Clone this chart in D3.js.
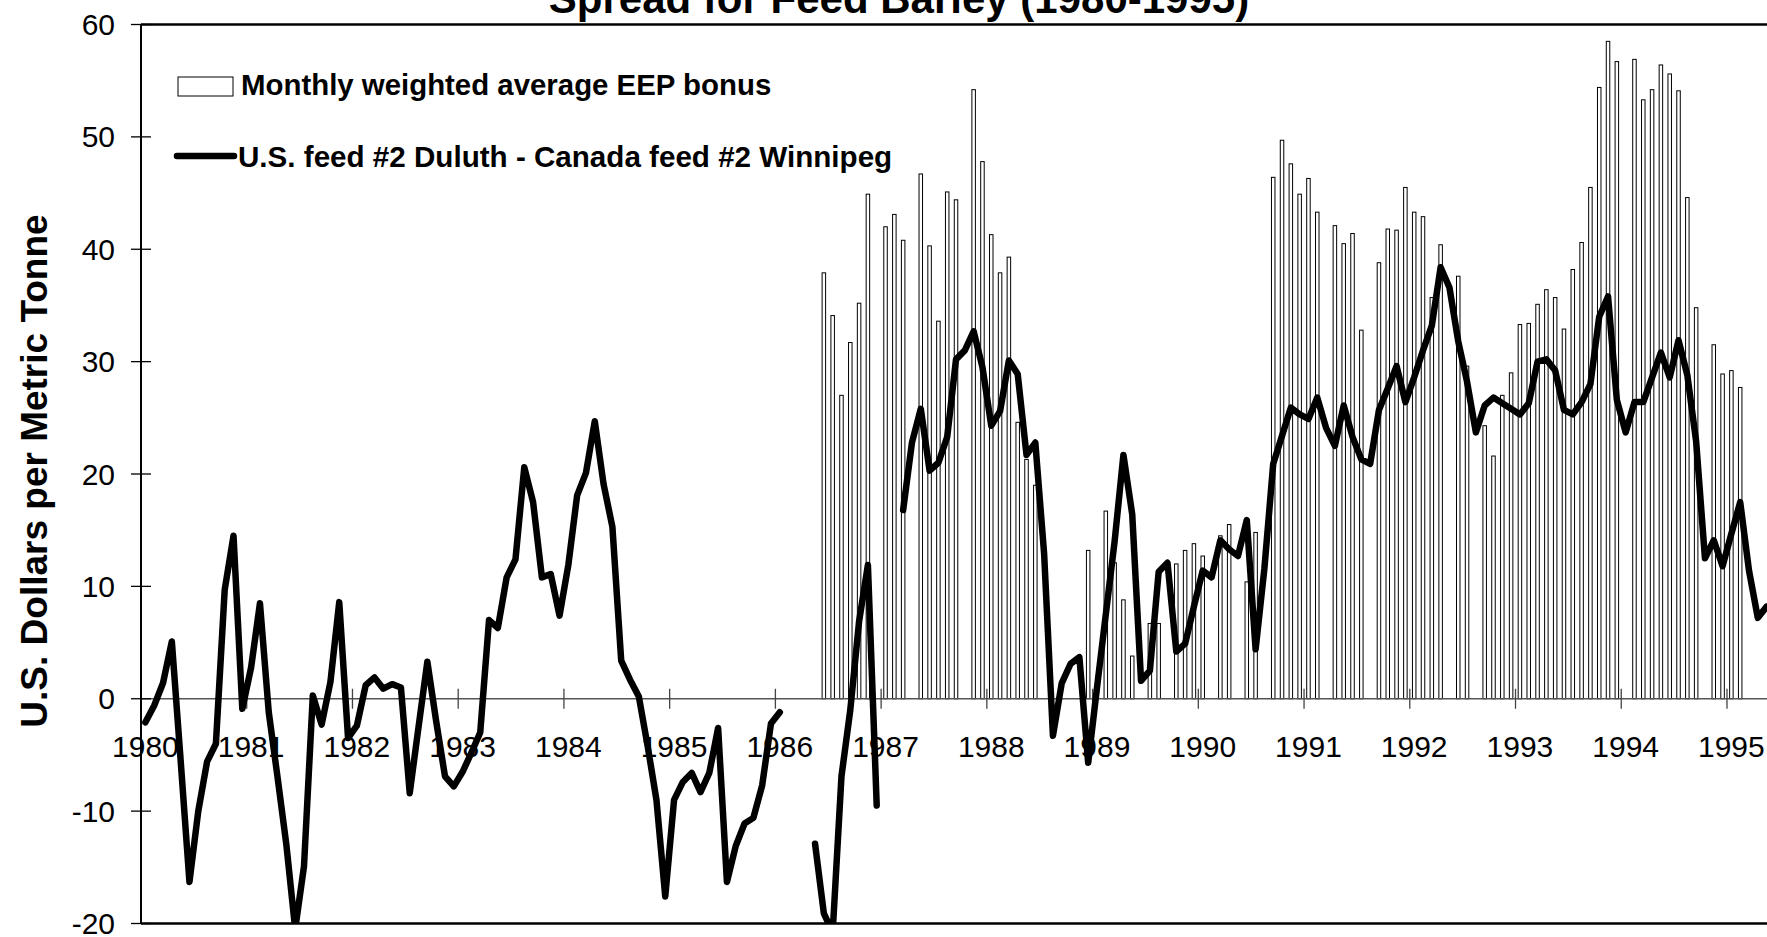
<!DOCTYPE html>
<html>
<head>
<meta charset="utf-8">
<script src="https://cdn.jsdelivr.net/npm/d3@7"></script>
<style>
  body { margin: 0; background: #fff; }
  svg { display: block; font-family: "Liberation Sans", Arial, sans-serif; }
</style>
</head>
<body>
<div id="chart"></div>
<script>
// Year labels on the category axis (one every 12 months, Jan 1980 onward)
const years = [1980, 1981, 1982, 1983, 1984, 1985, 1986, 1987, 1988, 1989, 1990, 1991, 1992, 1993, 1994, 1995];

// U.S. feed #2 Duluth - Canada feed #2 Winnipeg spread, monthly (null = no quote)
const spread = [
  -2.1, -0.6, 1.4, 5.1, -5.5, -16.3, -10.0, -5.6, -4.0, 9.7, 14.5, -0.9,      // 1980
  2.8, 8.5, -1.2, -7.0, -13.0, -20.5, -14.9, 0.3, -2.3, 1.5, 8.6, -3.5,       // 1981
  -2.4, 1.2, 1.9, 0.9, 1.3, 1.0, -8.4, -2.5, 3.3, -2.0, -6.9, -7.8,           // 1982
  -6.5, -4.8, -3.0, 7.0, 6.3, 10.8, 12.4, 20.6, 17.5, 10.8, 11.1, 7.4,        // 1983
  11.9, 18.1, 20.1, 24.7, 19.1, 15.3, 3.4, 1.7, 0.2, -4.2, -9.0, -17.6,       // 1984
  -9.0, -7.4, -6.6, -8.3, -6.6, -2.6, -16.3, -13.1, -11.1, -10.6, -7.7, -2.2, // 1985
  -1.2, null, null, null, -12.9, -19.1, -20.8, -6.9, -1.0, 6.9, 11.9, -9.5,   // 1986
  null, null, 16.8, 22.8, 25.8, 20.3, 21.0, 23.3, 30.2, 31.0, 32.7, 29.5,     // 1987
  24.3, 25.6, 30.1, 28.9, 21.7, 22.8, 12.9, -3.3, 1.4, 3.1, 3.7, -5.7,        // 1988
  1.0, 7.5, 14.0, 21.7, 16.4, 1.6, 2.5, 11.3, 12.1, 4.2, 4.9, 8.2,            // 1989
  11.4, 10.8, 14.1, 13.3, 12.7, 15.9, 4.4, 11.6, 20.9, 23.4, 25.9, 25.3,      // 1990
  24.9, 26.8, 24.1, 22.5, 26.1, 23.3, 21.3, 20.9, 25.7, 27.6, 29.6, 26.4,     // 1991
  28.6, 31.0, 33.2, 38.4, 36.6, 31.8, 28.2, 23.7, 26.1, 26.8, 26.3, 25.8,     // 1992
  25.3, 26.3, 30.0, 30.2, 29.2, 25.7, 25.3, 26.4, 28.0, 34.0, 35.8, 26.6,     // 1993
  23.7, 26.4, 26.4, 28.6, 30.8, 28.6, 31.9, 28.8, 22.9, 12.5, 14.1, 11.8,     // 1994
  14.7, 17.5, 11.4, 7.2, 8.2                                                  // 1995
];

// Monthly weighted average EEP bonus (null = no bonus that month)
const eepBonus = [
  null, null, null, null, null, null, null, null, null, null, null, null,     // 1980
  null, null, null, null, null, null, null, null, null, null, null, null,     // 1981
  null, null, null, null, null, null, null, null, null, null, null, null,     // 1982
  null, null, null, null, null, null, null, null, null, null, null, null,     // 1983
  null, null, null, null, null, null, null, null, null, null, null, null,     // 1984
  null, null, null, null, null, null, null, null, null, null, null, null,     // 1985
  null, null, null, null, null, 37.9, 34.1, 27.0, 31.7, 35.2, 44.9, null,     // 1986
  42.0, 43.1, 40.8, null, 46.7, 40.3, 33.6, 45.1, 44.4, null, 54.2, 47.8,     // 1987
  41.3, 37.9, 39.3, 24.6, 21.3, 19.0, null, null, null, null, null, 13.2,     // 1988
  null, 16.7, 12.1, 8.8, 3.8, null, 6.7, 6.7, null, 12.0, 13.2, 13.8,         // 1989
  12.7, null, 14.5, 15.5, null, 10.4, 14.8, null, 46.4, 49.7, 47.6, 44.9,     // 1990
  46.3, 43.3, null, 42.1, 40.5, 41.4, 32.8, null, 38.8, 41.8, 41.7, 45.5,     // 1991
  43.3, 42.9, 35.7, 40.4, null, 37.6, 29.6, null, 24.3, 21.6, 27.0, 29.0,     // 1992
  33.3, 33.4, 35.1, 36.4, 35.7, 32.9, 38.2, 40.6, 45.5, 54.4, 58.5, 56.7,     // 1993
  null, 56.9, 53.3, 54.2, 56.4, 55.6, 54.1, 44.6, 34.8, null, 31.5, 28.9,     // 1994
  29.2, 27.7, null, null, null                                                // 1995
];

const yTicks = [-20, -10, 0, 10, 20, 30, 40, 50, 60];

// Page and plot geometry
const width = 1767;
const height = 937;
const plotLeft = 141;
const plotTop = 24.5;
const plotBottom = 923.5;
const monthWidth = 8.811;
const plotRight = plotLeft + spread.length * monthWidth;

const svg = d3.select("#chart").append("svg")
  .attr("width", width)
  .attr("height", height);

const x = d3.scaleBand()
  .domain(d3.range(spread.length))
  .range([plotLeft, plotRight])
  .paddingInner(0)
  .paddingOuter(0);

const y = d3.scaleLinear()
  .domain([-20, 60])
  .range([plotBottom, plotTop]);

const cx = i => x(i) + x.bandwidth() / 2;

svg.append("clipPath").attr("id", "plot-clip")
  .append("rect")
  .attr("x", plotLeft)
  .attr("y", plotTop)
  .attr("width", plotRight - plotLeft)
  .attr("height", plotBottom - plotTop);

// Title (partly cut off at the top, as in the original)
svg.append("text")
  .attr("x", 899)
  .attr("y", 13)
  .attr("text-anchor", "middle")
  .style("font-size", "42px")
  .style("font-weight", "bold")
  .text("Spread for Feed Barley (1980-1995)");

// Y axis title
svg.append("text")
  .attr("transform", "translate(47,471) rotate(-90)")
  .attr("text-anchor", "middle")
  .style("font-size", "37px")
  .style("font-weight", "bold")
  .text("U.S. Dollars per Metric Tonne");

// EEP bonus bars
const barWidth = 3.5;
svg.append("g")
  .attr("clip-path", "url(#plot-clip)")
  .selectAll("rect")
  .data(eepBonus.map((v, i) => ({ v, i })).filter(d => d.v != null))
  .enter().append("rect")
  .attr("x", d => cx(d.i) - barWidth / 2)
  .attr("y", d => y(d.v))
  .attr("width", barWidth)
  .attr("height", d => y(0) - y(d.v))
  .attr("fill", "#fff")
  .attr("stroke", "#000")
  .attr("stroke-width", 1);

// Category axis along zero
svg.append("line")
  .attr("x1", plotLeft).attr("x2", plotRight)
  .attr("y1", y(0)).attr("y2", y(0))
  .attr("stroke", "#555")
  .attr("stroke-width", 1.3);

svg.append("g")
  .selectAll("line")
  .data(years)
  .enter().append("line")
  .attr("x1", (d, k) => x(k * 12))
  .attr("x2", (d, k) => x(k * 12))
  .attr("y1", y(0) - 10)
  .attr("y2", y(0) + 10)
  .attr("stroke", "#444")
  .attr("stroke-width", 1.3);

svg.append("g")
  .selectAll("text")
  .data(years)
  .enter().append("text")
  .attr("x", (d, k) => cx(k * 12))
  .attr("y", y(0) + 58)
  .attr("text-anchor", "middle")
  .style("font-size", "30px")
  .text(d => d);

// Spread line
const line = d3.line()
  .defined(d => d != null)
  .x((d, i) => cx(i))
  .y(d => y(d));

svg.append("path")
  .datum(spread)
  .attr("clip-path", "url(#plot-clip)")
  .attr("d", line)
  .attr("fill", "none")
  .attr("stroke", "#000")
  .attr("stroke-width", 6.5)
  .attr("stroke-linejoin", "round")
  .attr("stroke-linecap", "round");

// Frame: left value axis, top and bottom borders
svg.append("line")
  .attr("x1", plotLeft).attr("x2", plotLeft)
  .attr("y1", plotTop).attr("y2", plotBottom)
  .attr("stroke", "#000").attr("stroke-width", 2);
svg.append("line")
  .attr("x1", plotLeft).attr("x2", plotRight)
  .attr("y1", plotTop).attr("y2", plotTop)
  .attr("stroke", "#000").attr("stroke-width", 2.5);
svg.append("line")
  .attr("x1", plotLeft).attr("x2", plotRight)
  .attr("y1", plotBottom).attr("y2", plotBottom)
  .attr("stroke", "#000").attr("stroke-width", 2.5);

// Value axis ticks and labels
svg.append("g")
  .selectAll("line")
  .data(yTicks)
  .enter().append("line")
  .attr("x1", plotLeft - 10).attr("x2", plotLeft + 10)
  .attr("y1", d => y(d)).attr("y2", d => y(d))
  .attr("stroke", "#000").attr("stroke-width", 1.3);

svg.append("g")
  .selectAll("text")
  .data(yTicks)
  .enter().append("text")
  .attr("x", 115)
  .attr("y", d => y(d))
  .attr("dy", "0.35em")
  .attr("text-anchor", "end")
  .style("font-size", "30px")
  .text(d => d);

// Legend
const legend = svg.append("g");
legend.append("rect")
  .attr("x", 178).attr("y", 77)
  .attr("width", 55).attr("height", 19)
  .attr("fill", "#fff").attr("stroke", "#000").attr("stroke-width", 1);
legend.append("text")
  .attr("x", 241).attr("y", 95)
  .style("font-size", "29.4px").style("font-weight", "bold")
  .text("Monthly weighted average EEP bonus");
legend.append("line")
  .attr("x1", 177).attr("x2", 234)
  .attr("y1", 156).attr("y2", 156)
  .attr("stroke", "#000").attr("stroke-width", 6.5)
  .attr("stroke-linecap", "round");
legend.append("text")
  .attr("x", 238).attr("y", 167)
  .style("font-size", "29.6px").style("font-weight", "bold")
  .text("U.S. feed #2 Duluth - Canada feed #2 Winnipeg");
</script>
</body>
</html>
